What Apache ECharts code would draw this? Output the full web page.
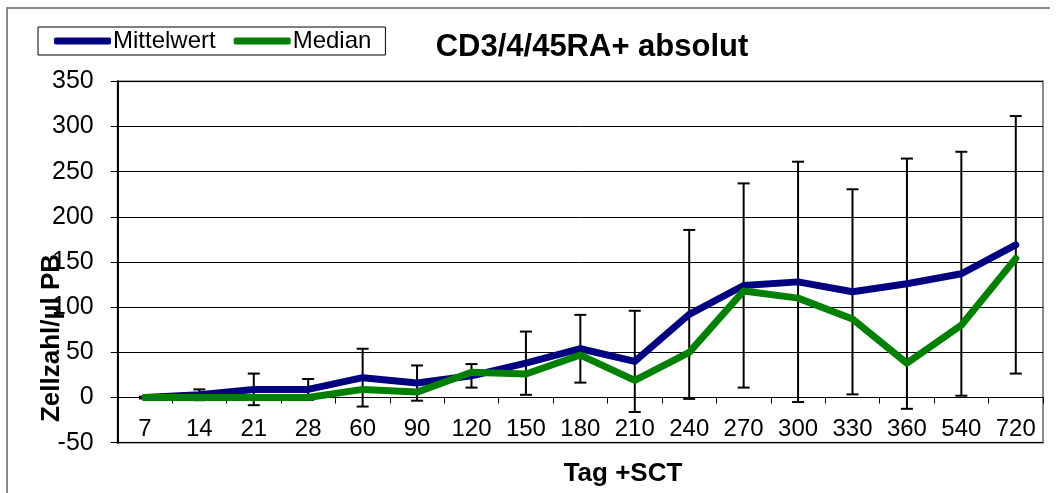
<!DOCTYPE html>
<html>
<head>
<meta charset="utf-8">
<script src="https://cdn.jsdelivr.net/npm/echarts@6/dist/echarts.min.js"></script>
<style>
  html, body { margin: 0; padding: 0; background: #fff; }
  #chart { width: 1057px; height: 493px; }
</style>
</head>
<body>
<div id="chart"></div>
<script>
// Days after SCT
const days = ['7', '14', '21', '28', '60', '90', '120', '150', '180', '210', '240', '270', '300', '330', '360', '540', '720'];
// Mean cell count per µl PB
const meanValues = [0, 3, 9, 9, 22, 16, 24, 38, 54, 40, 92, 124, 128, 117, 126, 137, 169];
// Median cell count per µl PB
const medianValues = [0, 0, 0, 0, 9, 6, 28, 26, 47, 19, 50, 118, 110, 87, 38, 80, 154];
// Standard deviation around the mean (error bars)
const sdValues = [1, 6, 17.5, 11.5, 32, 19.5, 13, 35, 37.5, 56, 93.5, 113, 133, 113.5, 138.5, 135, 142.5];
// Y axis ticks
const yMin = -50, yMax = 350, yStep = 50;

const FONT = '"Liberation Sans", Arial, sans-serif';

const errorData = days.map((d, i) => [i, meanValues[i] - sdValues[i], meanValues[i] + sdValues[i]]);

const chart = echarts.init(document.getElementById('chart'), null, { renderer: 'canvas' });

chart.setOption({
  animation: false,
  backgroundColor: '#fff',
  textStyle: { fontFamily: FONT },
  grid: {
    left: 117.7, right: 14, top: 81.3, bottom: 50.3,
    show: true, borderColor: '#8a8a8a', borderWidth: 2, backgroundColor: 'transparent'
  },
  legend: {
    left: 38, top: 27,
    orient: 'horizontal',
    data: [
      { name: 'Mittelwert', icon: 'roundRect' },
      { name: 'Median', icon: 'roundRect' }
    ],
    itemWidth: 57, itemHeight: 7, itemGap: 18,
    padding: [2, 14, 2, 16],
    borderColor: '#000', borderWidth: 1, borderRadius: 0,
    textStyle: { fontFamily: FONT, fontSize: 24, color: '#000', padding: [0, 0, 0, -3] }
  },
  xAxis: {
    type: 'category',
    data: days,
    boundaryGap: true,
    axisLine: { onZero: true, lineStyle: { color: '#000', width: 1 } },
    axisTick: { show: true, interval: 0, length: 6, lineStyle: { color: '#000' } },
    // labels sit just under the zero line, inside the plot's lower band
    axisLabel: { interval: 0, fontSize: 24, color: '#000', margin: -25, fontFamily: FONT },
    splitLine: { show: false }
  },
  yAxis: {
    type: 'value',
    min: yMin, max: yMax, interval: yStep,
    axisLine: { show: true, lineStyle: { color: '#000', width: 2 } },
    axisTick: { show: true, length: 7, lineStyle: { color: '#000' } },
    axisLabel: { fontSize: 25, color: '#000', margin: 24, fontFamily: FONT },
    splitLine: { show: true, lineStyle: { color: '#000', width: 1 } }
  },
  graphic: [
    { type: 'polyline', silent: true, shape: { points: [[7, 500], [7, 8], [1050, 8]] },
      style: { stroke: '#8a8a8a', lineWidth: 2, fill: null } },
    { type: 'text', x: 592, y: 47, silent: true,
      style: { text: 'CD3/4/45RA+ absolut', font: 'bold 31px ' + FONT, fill: '#000',
               textAlign: 'center', textVerticalAlign: 'middle' } },
    { type: 'text', x: 623, y: 474, silent: true,
      style: { text: 'Tag +SCT', font: 'bold 26px ' + FONT, fill: '#000',
               textAlign: 'center', textVerticalAlign: 'middle' } },
    { type: 'text', x: 52, y: 338, rotation: Math.PI / 2, silent: true, z: 100,
      style: { text: 'Zellzahl/µl PB', font: 'bold 26px ' + FONT, fill: '#000',
               textAlign: 'center', textVerticalAlign: 'middle' } }
  ],
  series: [
    {
      name: 'Fehler',
      type: 'custom',
      z: 1,
      silent: true,
      data: errorData,
      renderItem: function (params, api) {
        const x = api.coord([api.value(0), 0])[0];
        const lo = api.coord([api.value(0), api.value(1)])[1];
        const hi = api.coord([api.value(0), api.value(2)])[1];
        const cap = 6;
        const style = { stroke: '#000', lineWidth: 2 };
        return {
          type: 'group',
          children: [
            { type: 'line', shape: { x1: x, y1: hi, x2: x, y2: lo }, style: style },
            { type: 'line', shape: { x1: x - cap, y1: hi, x2: x + cap, y2: hi }, style: style },
            { type: 'line', shape: { x1: x - cap, y1: lo, x2: x + cap, y2: lo }, style: style }
          ]
        };
      }
    },
    {
      name: 'Mittelwert',
      type: 'line',
      z: 3,
      data: meanValues,
      showSymbol: false,
      symbol: 'none',
      color: '#000080',
      lineStyle: { color: '#000080', width: 7, cap: 'round', join: 'round' }
    },
    {
      name: 'Median',
      type: 'line',
      z: 4,
      data: medianValues,
      showSymbol: false,
      symbol: 'none',
      color: '#008000',
      lineStyle: { color: '#008000', width: 7, cap: 'round', join: 'round' }
    }
  ]
});
</script>
</body>
</html>
